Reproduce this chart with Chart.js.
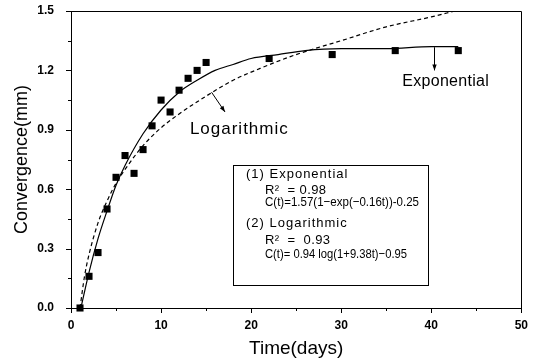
<!DOCTYPE html>
<html>
<head>
<meta charset="utf-8">
<script src="https://cdn.jsdelivr.net/npm/chart.js@4.4.1/dist/chart.umd.min.js"></script>
<style>
html,body{margin:0;padding:0;background:#fff;}
#wrap{width:533px;height:361px;}
</style>
</head>
<body>
<div id="wrap"><canvas id="c" width="533" height="361"></canvas></div>
<script>
// Measured data (days, convergence in mm)
const days = [1,2,3,4,5,6,7,8,9,10,11,12,13,14,15,22,29,36,43];
const convergence = [0.00,0.16,0.28,0.50,0.66,0.77,0.68,0.80,0.92,1.05,0.99,1.10,1.16,1.20,1.24,1.26,1.28,1.30,1.30];

// Exponential fit curve
const expT = [1.1,2,3,4,5,6,8,10,12,14,16,18,20,23,26,30,35,40,43];
const expC = [0.00,0.18,0.35,0.49,0.62,0.72,0.88,1.00,1.09,1.15,1.20,1.23,1.26,1.28,1.30,1.31,1.31,1.32,1.32];

// Logarithmic fit curve
const logT = [1,1.5,2,3,4,5,6,8,10,12,15,18,21,25,30,35,40,42.6];
const logC = [0.00,0.16,0.27,0.43,0.54,0.63,0.70,0.82,0.91,0.98,1.07,1.15,1.21,1.28,1.35,1.42,1.47,1.50];

// Axis ticks
const xTicks = [0,10,20,30,40,50];
const yTicks = [0.0,0.3,0.6,0.9,1.2,1.5];
const xMinor = [5,15,25,35,45];
const yMinor = [0.15,0.45,0.75,1.05,1.35];

// Text
const xTitle = 'Time(days)';
const yTitle = 'Convergence(mm)';
const expLabel = 'Exponential';
const logLabel = 'Logarithmic';
const boxLines = [
  '(1) Exponential',
  'R\u00B2  = 0.98',
  'C(t)=1.57(1\u2212exp(\u22120.16t))-0.25',
  '(2) Logarithmic',
  'R\u00B2  =  0.93',
  'C(t)= 0.94 log(1+9.38t)\u22120.95'
];

const FONT = "'Liberation Sans', Arial, sans-serif";

const toXY = (xs, ys) => xs.map((x, i) => ({x: x, y: ys[i]}));

const decor = {
  id: 'decor',
  afterDraw(chart) {
    const {ctx, chartArea: a, scales: {x, y}} = chart;
    ctx.save();
    ctx.strokeStyle = '#000';
    ctx.fillStyle = '#000';
    ctx.lineWidth = 1;
    // frame top and right
    ctx.beginPath();
    ctx.moveTo(a.left, Math.round(a.top) + 0.5);
    ctx.lineTo(Math.round(a.right) + 0.5, Math.round(a.top) + 0.5);
    ctx.lineTo(Math.round(a.right) + 0.5, a.bottom);
    ctx.stroke();
    // minor ticks and y major ticks
    ctx.beginPath();
    xMinor.forEach(v => {
      const px = Math.round(x.getPixelForValue(v)) + 0.5;
      ctx.moveTo(px, a.bottom); ctx.lineTo(px, a.bottom + 3);
    });
    yMinor.forEach(v => {
      const py = Math.round(y.getPixelForValue(v)) + 0.5;
      ctx.moveTo(a.left, py); ctx.lineTo(a.left - 3, py);
    });
    yTicks.forEach(v => {
      const py = Math.round(y.getPixelForValue(v)) + 0.5;
      ctx.moveTo(a.left, py); ctx.lineTo(a.left - 5, py);
    });
    ctx.stroke();

    const arrow = (x1, y1, x2, y2) => {
      ctx.beginPath(); ctx.moveTo(x1, y1); ctx.lineTo(x2, y2); ctx.stroke();
      const ang = Math.atan2(y2 - y1, x2 - x1);
      const L = 6, W = 2.2;
      ctx.beginPath();
      ctx.moveTo(x2, y2);
      ctx.lineTo(x2 - L * Math.cos(ang) + W * Math.sin(ang), y2 - L * Math.sin(ang) - W * Math.cos(ang));
      ctx.lineTo(x2 - L * Math.cos(ang) - W * Math.sin(ang), y2 - L * Math.sin(ang) + W * Math.cos(ang));
      ctx.closePath(); ctx.fill();
    };
    arrow(x.getPixelForValue(15.6), y.getPixelForValue(1.09), x.getPixelForValue(17.1), y.getPixelForValue(0.99));
    arrow(Math.round(x.getPixelForValue(40.3)) + 0.5, y.getPixelForValue(1.317), Math.round(x.getPixelForValue(40.3)) + 0.5, y.getPixelForValue(1.20));

    ctx.textBaseline = 'middle';
    ctx.textAlign = 'left';
    ctx.font = '17px ' + FONT;
    ctx.letterSpacing = '1px';
    ctx.fillText(logLabel, x.getPixelForValue(13.2), y.getPixelForValue(0.9));
    ctx.font = '16px ' + FONT;
    ctx.letterSpacing = '0.3px';
    ctx.textAlign = 'center';
    ctx.fillText(expLabel, x.getPixelForValue(41.6), y.getPixelForValue(1.145));

    // equation box
    const bl = Math.round(x.getPixelForValue(18.0)) + 0.5;
    const br = Math.round(x.getPixelForValue(39.6)) + 0.5;
    const bt = Math.round(y.getPixelForValue(0.722)) + 0.5;
    const bb = Math.round(y.getPixelForValue(0.117)) + 0.5;
    ctx.strokeRect(bl, bt, br - bl, bb - bt);
    ctx.textAlign = 'left';
    const ys = [174, 190.5, 202, 223, 240, 254];
    const widths = [104, 72, 154, 105, 72, 142];
    boxLines.forEach((t, i) => {
      const heading = (i === 0 || i === 3);
      const formula = (i === 2 || i === 5);
      const tx = heading ? bl + 12.5 : bl + 31.5;
      ctx.font = '13px ' + FONT;
      ctx.letterSpacing = heading ? '1px' : (formula ? '0px' : '0.4px');
      ctx.fillText(t, tx, ys[i], widths[i]);
    });
    ctx.restore();
  }
};

new Chart(document.getElementById('c'), {
  type: 'scatter',
  data: {
    datasets: [
      {
        type: 'line',
        data: toXY(expT, expC),
        borderColor: '#000',
        borderWidth: 1.2,
        pointRadius: 0,
        fill: false,
        cubicInterpolationMode: 'monotone'
      },
      {
        type: 'line',
        data: toXY(logT, logC),
        borderColor: '#000',
        borderWidth: 1.2,
        borderDash: [4, 3],
        pointRadius: 0,
        fill: false,
        cubicInterpolationMode: 'monotone'
      },
      {
        type: 'scatter',
        data: toXY(days, convergence),
        pointStyle: 'rect',
        pointRadius: 5,
        backgroundColor: '#000',
        borderColor: '#000',
        borderWidth: 0,
        clip: false
      }
    ]
  },
  options: {
    responsive: false,
    animation: false,
    events: [],
    layout: {padding: {top: 11, right: 11, left: 0, bottom: 0}},
    plugins: {legend: {display: false}, tooltip: {enabled: false}},
    scales: {
      x: {
        type: 'linear', min: 0, max: 50,
        afterFit: s => { s.height = 53; },
        afterBuildTicks: s => { s.ticks = xTicks.map(v => ({value: v})); },
        ticks: {color: '#000', font: {family: FONT, size: 12, weight: 'bold'}, padding: 5,
          callback: v => String(v)},
        grid: {drawOnChartArea: false, tickLength: 5, color: '#000'},
        border: {display: true, color: '#000', width: 1},
        title: {display: true, text: xTitle, color: '#000', font: {family: FONT, size: 19}, padding: {top: 0, bottom: 1}}
      },
      y: {
        type: 'linear', min: 0, max: 1.5,
        afterFit: s => { s.width = 71; },
        afterBuildTicks: s => { s.ticks = yTicks.map(v => ({value: v})); },
        ticks: {color: '#000', font: {family: FONT, size: 12, weight: 'bold'}, padding: 0,
          callback: v => Number(v).toFixed(1)},
        grid: {drawOnChartArea: false, tickLength: 17, color: '#000', tickColor: 'rgba(0,0,0,0)'},
        border: {display: true, color: '#000', width: 1},
        title: {display: true, text: yTitle, color: '#000', font: {family: FONT, size: 18}, padding: {top: 11, bottom: 0}}
      }
    }
  },
  plugins: [decor]
});
</script>
</body>
</html>
